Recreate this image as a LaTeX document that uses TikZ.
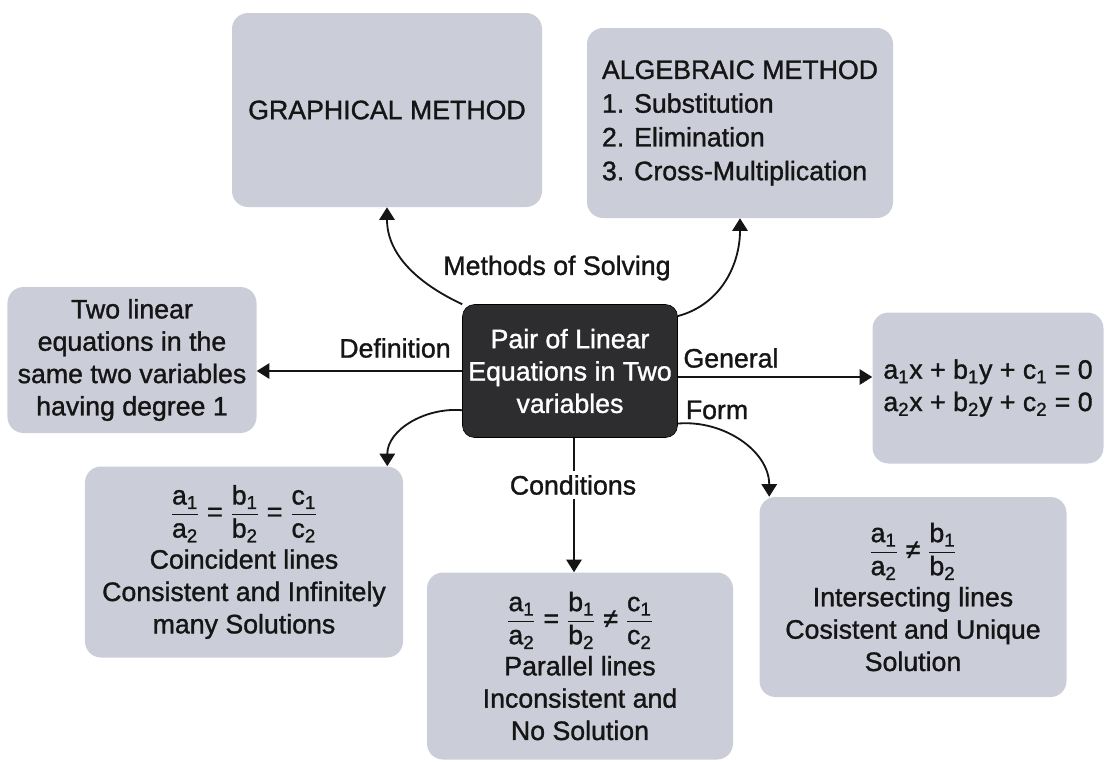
\documentclass[tikz,border=0pt]{standalone}
\usepackage{amsmath}
\usepackage{fontspec}
\setmainfont{Liberation Sans}[UprightFeatures={FakeBold=1.2}]
\usetikzlibrary{arrows.meta,positioning}
\definecolor{mapgrey}{HTML}{CBCED8}
\definecolor{mapdark}{HTML}{2D2D2F}
\definecolor{mapink}{HTML}{151515}
\newcommand{\sbs}[2]{#1\textsubscript{#2}}
\newcommand{\ratio}[1]{$\dfrac{\text{\sbs{#1}{1}}}{\text{\sbs{#1}{2}}}$}

\begin{document}
\begin{tikzpicture}[x=0.25mm,y=-0.25mm,font=\fontsize{19}{23}\selectfont,
  card/.style={fill=mapgrey,rounded corners=4mm,align=center,text=mapink},
  hub/.style={fill=mapdark,draw=black,rounded corners=3mm,align=center,text=white},
  tag/.style={text=mapink,inner sep=1.5pt},
  link/.style={-{Triangle[width=11pt,length=9pt]},line width=1.3pt,draw=mapink}]
\useasboundingbox (0,0) rectangle (1106,762);
\node[hub,minimum width=53.75mm,minimum height=33.25mm](ctr) at (570,371){Pair of Linear\\Equations in Two\\variables};
\node[card,minimum width=77.5mm,minimum height=48.5mm](graph) at (387,110){GRAPHICAL METHOD};
\node[card,align=left,minimum width=76.5mm,minimum height=47.5mm](alg) at (740,123){ALGEBRAIC METHOD\\[1pt]1. Substitution\\[1pt]2. Elimination\\[1pt]3. Cross-Multiplication};
\node[card,minimum width=62.25mm,minimum height=36.5mm](defn) at (132,360){Two linear\\equations in the\\same two variables\\having degree 1};
\node[card,minimum width=57.75mm,minimum height=37.75mm](gen) at (988,388){\sbs{a}{1}x + \sbs{b}{1}y + \sbs{c}{1} = 0\\\sbs{a}{2}x + \sbs{b}{2}y + \sbs{c}{2} = 0};
\node[card,minimum width=79.5mm,minimum height=47.75mm](coin) at (244,562){\ratio{a} = \ratio{b} = \ratio{c}\\[4pt]Coincident lines\\Consistent and Infinitely\\many Solutions};
\node[card,minimum width=76.5mm,minimum height=46.75mm](par) at (580,666){\ratio{a} = \ratio{b} ≠ \ratio{c}\\[4pt]Parallel lines\\Inconsistent and\\No Solution};
\node[card,minimum width=76.75mm,minimum height=50mm](inter) at (913,597){\ratio{a} ≠ \ratio{b}\\[4pt]Intersecting lines\\Cosistent and Unique\\Solution};
% connectors
\draw[link] (ctr.north west) to[out=155,in=-90] (graph.south);
\draw[link] (ctr.27) to[out=15,in=-90] (alg.south);
\draw[link] (ctr.west) -- (ctr.west -| defn.east);
\draw[link] ([yshift=-1.5mm]ctr.east) -- ([yshift=-1.5mm]ctr.east -| gen.west);
\draw[link] (ctr.200) to[out=175,in=90] ([xshift=-4mm]coin.north east);
\draw[link] ([xshift=1mm]ctr.south) -- ([xshift=1mm]ctr.south |- par.north);
\draw[link] (ctr.-26) to[out=5,in=90] ([xshift=2.5mm]inter.north west);
% labels
\node[tag](msol) at (557,268){Methods of Solving};
\node[tag](dfn) at (395,348){Definition};
\node[tag](gnl) at (731,358){General};
\node[tag](frm) at (717,410){Form};
\node[tag,fill=white,inner sep=3pt](cnd) at (573,485){Conditions};
\end{tikzpicture}
\end{document}
